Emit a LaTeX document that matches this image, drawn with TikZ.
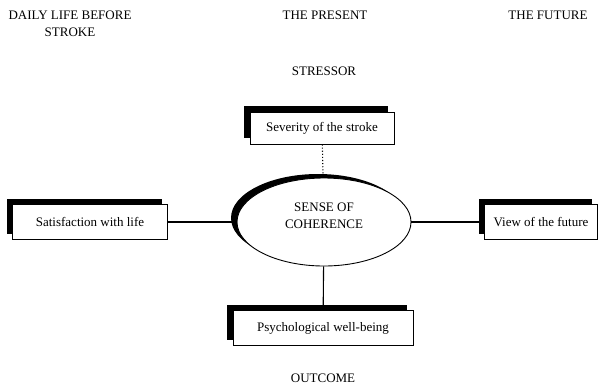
\documentclass[tikz,border=0pt]{standalone}
\usepackage{fontspec}
\setmainfont{Liberation Serif}
\usetikzlibrary{shapes,shadows,positioning}

\begin{document}
\begin{tikzpicture}[x=1pt, y=-1pt,
  every node/.style={font=\fontsize{13}{17}\selectfont},
  factor/.style={draw, line width=0.9pt, fill=white, minimum height=35pt, inner sep=0pt,
    drop shadow={shadow xshift=-6pt, shadow yshift=6pt, fill=black, opacity=1}},
  link/.style={line width=1.1pt}]
  \useasboundingbox (0,0) rectangle (599,386);

  % time line across the top
  \node[align=center] (past) at (70,24) {DAILY LIFE BEFORE\\STROKE};
  \node (present) at (325,15) {THE PRESENT};
  \node (future) at (548,15) {THE FUTURE};
  \node (stressor) at (324,71) {STRESSOR};
  \node (outcome) at (323,378) {OUTCOME};

  % the model
  \node[draw, ellipse, line width=0.9pt, fill=white, inner sep=0pt,
    minimum width=174pt, minimum height=88pt,
    drop shadow={shadow xshift=-6pt, shadow yshift=4pt, fill=black, opacity=1},
    label={[align=center, yshift=6pt]center:SENSE OF\\COHERENCE}]
    (SOC) at (324,222) {};
  \node[factor, minimum width=144pt, minimum height=32pt] (severity) at (322,128) {Severity of the stroke};
  \node[factor, minimum width=155pt] (satisfaction) at (90,222) {Satisfaction with life};
  \node[factor, minimum width=113pt] (view) at (541,222) {View of the future};
  \node[factor, minimum width=180pt] (wellbeing) at (323,328) {Psychological well-being};

  \draw[link, dotted] (severity) -- (SOC);
  \draw[link] (satisfaction) -- (SOC);
  \draw[link] (SOC) -- (view);
  \draw[link] (SOC) -- (wellbeing);
\end{tikzpicture}
\end{document}
